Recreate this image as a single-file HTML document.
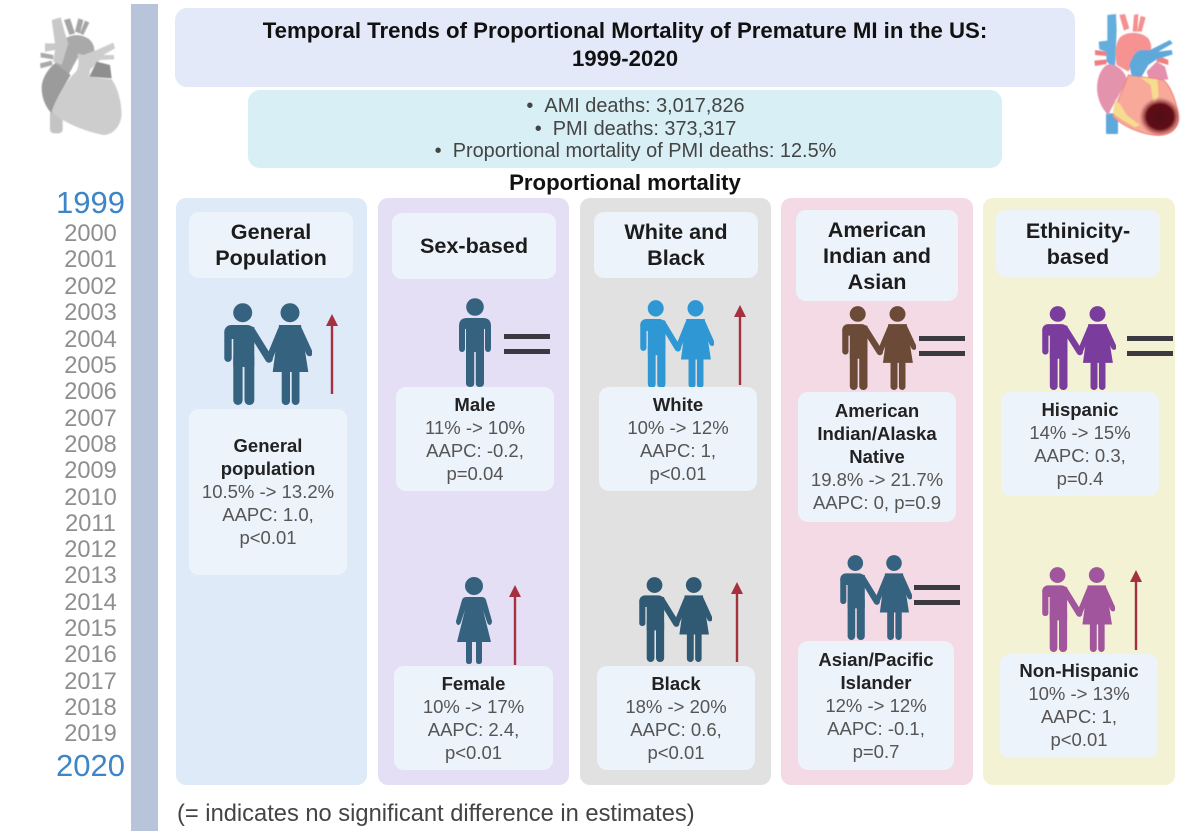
<!DOCTYPE html>
<html lang="en">
<head>
<meta charset="utf-8">
<title>Temporal Trends of Proportional Mortality of Premature MI in the US</title>
<style>
html,body{margin:0;padding:0;background:#fff;}
#page{position:relative;width:1200px;height:835px;overflow:hidden;background:#fff;font-family:"Liberation Sans",sans-serif;}
#page>*{position:absolute;}
.box{border-radius:12px;}
.panel{top:198px;height:587px;border-radius:10px;}
.head{background:#edf3fb;border-radius:10px;display:flex;align-items:center;justify-content:center;text-align:center;font-weight:bold;font-size:21.6px;line-height:26px;color:#1c1c1c;}
.card{background:#edf3fb;border-radius:10px;text-align:center;font-size:18.5px;line-height:23px;color:#555;box-sizing:border-box;}
.card b{color:#222;}
.yr{left:40px;width:101px;text-align:center;font-size:23.6px;line-height:26px;height:26px;color:#8e8e8e;}
.yr.big{font-size:31px;color:#3d85c6;left:40px;}
.eq{width:46px;border-top:5px solid #3a3a40;border-bottom:5px solid #3a3a40;box-sizing:content-box;height:10px;}
svg{display:block;}
</style>
</head>
<body>
<div id="page">
<svg width="0" height="0" style="width:0;height:0">
  <defs><filter id="soft" x="-5%" y="-5%" width="110%" height="110%"><feGaussianBlur stdDeviation="1.500"/></filter></defs>
  <symbol id="couple" viewBox="0 0 88 102" preserveAspectRatio="none">
    <g fill="currentColor">
      <circle cx="18.700" cy="9.700" r="9.500"/>
      <circle cx="66" cy="9.700" r="9.500"/>
      <rect x="0.300" y="22" width="30" height="14" rx="7"/>
      <rect x="0.300" y="26" width="7.400" height="33" rx="3.700"/>
      <rect x="9.300" y="24" width="21" height="40"/>
      <rect x="9.300" y="50" width="9.300" height="52" rx="4.600"/>
      <rect x="20.500" y="50" width="9.800" height="52" rx="4.600"/>
      <path d="M55 22H77L84.300 69H48.700Z"/>
      <rect x="57.700" y="60" width="8.300" height="42" rx="4"/>
      <rect x="67.700" y="60" width="7.800" height="42" rx="3.900"/>
    </g>
    <g fill="none" stroke="currentColor" stroke-linecap="round">
      <path d="M27 27L45 56" stroke-width="7.500"/>
      <path d="M57 27L45 56" stroke-width="6.500"/>
      <path d="M75 27L85.500 50" stroke-width="6.500"/>
    </g>
  </symbol>
  <symbol id="man" viewBox="0 0 32 89" preserveAspectRatio="none">
    <g fill="currentColor">
      <circle cx="16" cy="9" r="8.800"/>
      <path d="M8 20H24Q32 20 32 28V50Q32 54 29 54Q26 54 26 50V31H25V85Q25 89 20.500 89Q16.800 89 16.800 85V54H15.200V85Q15.200 89 11.500 89Q7 89 7 85V31H6V50Q6 54 3 54Q0 54 0 50V28Q0 20 8 20Z"/>
    </g>
  </symbol>
  <symbol id="woman" viewBox="0 0 36 87" preserveAspectRatio="none">
    <g fill="currentColor">
      <circle cx="18" cy="9" r="9"/>
      <path d="M10 20H26Q29 20 30 23L36 44Q36 47 34 48Q32 48 31 45L27 33L35 65H26V84Q26 87 23 87Q20 87 20 84V65H16V84Q16 87 13 87Q10 87 10 84V65H1L9 33L5 45Q4 48 2 48Q0 47 0 44L6 23Q7 20 10 20Z"/>
    </g>
  </symbol>
  <symbol id="arrow" viewBox="0 0 14 80" preserveAspectRatio="none">
    <path d="M7 0L13 12H8.200V80H5.800V12H1Z" fill="#a53040"/>
  </symbol>
</svg>

<!-- Gray heart -->
<svg style="left:0;top:0" width="130" height="140" viewBox="0 0 390 420">
  <g filter="url(#soft)">
    <rect x="150" y="330" width="38" height="70" rx="12" fill="#c4c4c4"/>
    <path d="M122 158L160 165L160 178L122 172Z" fill="#aaaaaa"/>
    <path d="M120 190L155 182L158 195L122 205Z" fill="#aaaaaa"/>
    <path d="M192 60L210 55L225 100L208 105Z" fill="#a5a5a5"/>
    <path d="M235 55L250 60L240 100L225 95Z" fill="#a5a5a5"/>
    <path d="M255 62L268 68L250 105L240 100Z" fill="#a5a5a5"/>
    <path d="M185 130C195 105 240 95 270 120C285 135 285 155 280 165L235 170L205 225L165 190Z" fill="#a9a9a9"/>
    <path d="M155 60L182 52L195 100L205 130L185 195L160 185L165 150L135 155L135 130L165 130Z" fill="#c8c8c8"/>
    <path d="M165 190L212 225L180 280L155 340C135 320 125 290 125 265C125 235 145 205 165 190Z" fill="#9b9b9b"/>
    <path d="M232 160L250 165L290 150L340 128L345 145L310 165L342 165L342 178L300 180L270 210L268 230L335 238C355 265 365 310 365 345C360 385 335 405 310 405C260 395 190 370 155 335C170 290 205 235 228 215C240 195 235 175 232 160Z" fill="#cdcdcd"/>
    <path d="M290 185L330 195L335 235L268 230Z" fill="#8f8f8f"/>
  </g>
</svg>

<!-- Timeline -->
<div style="left:131px;top:4px;width:27px;height:827px;background:#b7c4da"></div>
<div class="yr big" style="top:190px">1999</div>
<div class="yr" style="top:221px">2000</div>
<div class="yr" style="top:247px">2001</div>
<div class="yr" style="top:274px">2002</div>
<div class="yr" style="top:300px">2003</div>
<div class="yr" style="top:327px">2004</div>
<div class="yr" style="top:353px">2005</div>
<div class="yr" style="top:379px">2006</div>
<div class="yr" style="top:406px">2007</div>
<div class="yr" style="top:432px">2008</div>
<div class="yr" style="top:458px">2009</div>
<div class="yr" style="top:485px">2010</div>
<div class="yr" style="top:511px">2011</div>
<div class="yr" style="top:537px">2012</div>
<div class="yr" style="top:563px">2013</div>
<div class="yr" style="top:590px">2014</div>
<div class="yr" style="top:616px">2015</div>
<div class="yr" style="top:642px">2016</div>
<div class="yr" style="top:669px">2017</div>
<div class="yr" style="top:695px">2018</div>
<div class="yr" style="top:721px">2019</div>
<div class="yr big" style="top:753px">2020</div>

<!-- Title -->
<div class="box" style="left:175px;top:8px;width:900px;height:79px;background:#e4e9f9;text-align:center;font-weight:bold;font-size:22.2px;line-height:28px;color:#111;box-sizing:border-box;padding-top:9px">Temporal Trends of Proportional Mortality of Premature MI in the US:<br>1999-2020</div>

<!-- Info -->
<div class="box" style="left:248px;top:90px;width:754px;height:78px;background:#d8eff5;text-align:center;font-size:19.9px;line-height:22.500px;color:#444;box-sizing:border-box;padding:5px 0 0 21px">&#8226;&nbsp;&nbsp;AMI deaths: 3,017,826<br>&#8226;&nbsp;&nbsp;PMI deaths: 373,317<br>&#8226;&nbsp;&nbsp;Proportional mortality of PMI deaths: 12.5%</div>

<div style="left:175px;top:171px;width:900px;text-align:center;font-weight:bold;font-size:22.2px;line-height:24px;color:#111">Proportional mortality</div>

<!-- Panels -->
<div class="panel" style="left:176px;width:191px;background:#dfeaf8"></div>
<div class="panel" style="left:378px;width:191px;background:#e4dff4"></div>
<div class="panel" style="left:580px;width:191px;background:#e1e1e1"></div>
<div class="panel" style="left:781px;width:192px;background:#f3dae5"></div>
<div class="panel" style="left:983px;width:192px;background:#f4f2d4"></div>

<!-- Headers -->
<div class="head" style="left:189px;top:212px;width:164px;height:66px">General<br>Population</div>
<div class="head" style="left:392px;top:213px;width:164px;height:66px">Sex-based</div>
<div class="head" style="left:594px;top:212px;width:164px;height:66px">White and<br>Black</div>
<div class="head" style="left:796px;top:210px;width:162px;height:91px">American<br>Indian and<br>Asian</div>
<div class="head" style="left:996px;top:210px;width:164px;height:67px">Ethinicity-<br>based</div>

<!-- Icons: General -->
<svg style="left:224px;top:303px;color:#35627f" width="88" height="102"><use href="#couple"/></svg>
<svg style="left:325px;top:314px" width="14" height="80"><use href="#arrow"/></svg>

<!-- Sex -->
<svg style="left:459px;top:298px;color:#35627f" width="32" height="89"><use href="#man"/></svg>
<div class="eq" style="left:504px;top:334px"></div>
<svg style="left:456px;top:577px;color:#35627f" width="36" height="87"><use href="#woman"/></svg>
<svg style="left:508px;top:585px" width="14" height="80"><use href="#arrow"/></svg>

<!-- White / Black -->
<svg style="left:640px;top:300px;color:#2f98d4" width="74" height="88"><use href="#couple"/></svg>
<svg style="left:733px;top:305px" width="14" height="80"><use href="#arrow"/></svg>
<svg style="left:639px;top:577px;color:#305a74" width="73" height="85"><use href="#couple"/></svg>
<svg style="left:730px;top:582px" width="14" height="80"><use href="#arrow"/></svg>

<!-- AI / Asian -->
<svg style="left:842px;top:306px;color:#6b4a38" width="74" height="84"><use href="#couple"/></svg>
<div class="eq" style="left:919px;top:336px"></div>
<svg style="left:840px;top:555px;color:#35627f" width="72" height="85"><use href="#couple"/></svg>
<div class="eq" style="left:914px;top:585px"></div>

<!-- Ethnicity -->
<svg style="left:1042px;top:306px;color:#7a3d9d" width="74" height="84"><use href="#couple"/></svg>
<div class="eq" style="left:1127px;top:336px"></div>
<svg style="left:1042px;top:567px;color:#a0559c" width="73" height="85"><use href="#couple"/></svg>
<svg style="left:1129px;top:570px" width="14" height="80"><use href="#arrow"/></svg>

<!-- Cards -->
<div class="card" style="left:189px;top:409px;width:158px;height:166px;padding-top:25px"><b>General<br>population</b><br>10.5% -&gt; 13.2%<br>AAPC: 1.0,<br>p&lt;0.01</div>
<div class="card" style="left:396px;top:387px;width:158px;height:104px;padding-top:6px"><b>Male</b><br>11% -&gt; 10%<br>AAPC: -0.2,<br>p=0.04</div>
<div class="card" style="left:394px;top:666px;width:159px;height:104px;padding-top:6px"><b>Female</b><br>10% -&gt; 17%<br>AAPC: 2.4,<br>p&lt;0.01</div>
<div class="card" style="left:599px;top:387px;width:158px;height:104px;padding-top:6px"><b>White</b><br>10% -&gt; 12%<br>AAPC: 1,<br>p&lt;0.01</div>
<div class="card" style="left:597px;top:666px;width:158px;height:104px;padding-top:6px"><b>Black</b><br>18% -&gt; 20%<br>AAPC: 0.6,<br>p&lt;0.01</div>
<div class="card" style="left:798px;top:392px;width:158px;height:130px;padding-top:7px"><b>American<br>Indian/Alaska<br>Native</b><br>19.8% -&gt; 21.7%<br>AAPC: 0, p=0.9</div>
<div class="card" style="left:798px;top:641px;width:156px;height:129px;padding-top:7px"><b>Asian/Pacific<br>Islander</b><br>12% -&gt; 12%<br>AAPC: -0.1,<br>p=0.7</div>
<div class="card" style="left:1001px;top:392px;width:158px;height:104px;padding-top:6px"><b>Hispanic</b><br>14% -&gt; 15%<br>AAPC: 0.3,<br>p=0.4</div>
<div class="card" style="left:1000px;top:654px;width:158px;height:104px;padding-top:5px"><b>Non-Hispanic</b><br>10% -&gt; 13%<br>AAPC: 1,<br>p&lt;0.01</div>

<!-- Colored heart -->
<svg style="left:1000px;top:0" width="200" height="150" viewBox="0 0 600 450">
  <defs>
    <radialGradient id="infarct"><stop offset="0" stop-color="#4f0b16"/><stop offset=".65" stop-color="#611019"/><stop offset="1" stop-color="#a03a3e" stop-opacity="0"/></radialGradient>
  </defs>
  <g filter="url(#soft)">
    <rect x="318" y="340" width="36" height="62" rx="3" fill="#5da9da"/>
    <path d="M470 165L505 180L505 195L470 185Z" fill="#ee8080"/>
    <path d="M285 150L320 155L320 168L285 165Z" fill="#ef7d80"/>
    <path d="M283 182L320 178L320 192L285 198Z" fill="#ef7d80"/>
    <path d="M322 45L348 42L350 90L345 210L320 185L318 155L298 148L296 125L322 122Z" fill="#63aedd"/>
    <path d="M358 45L375 42L388 85L372 92Z" fill="#f4908e"/>
    <path d="M402 45L415 42L412 95L398 95Z" fill="#f4908e"/>
    <path d="M422 48L437 52L425 95L412 95Z" fill="#f4908e"/>
    <path d="M355 120C365 95 420 90 445 115C458 135 455 155 445 165L400 190L385 215L350 195C345 170 345 140 355 120Z" fill="#f79292"/>
    <path d="M440 215L470 185L495 200L505 238L480 240L445 232Z" fill="#e48fae"/>
    <path d="M320 195C345 185 375 215 380 235C370 270 345 300 325 345C300 320 288 285 292 250C295 225 305 205 320 195Z" fill="#e493ad"/>
    <path d="M385 225L490 240C515 260 535 320 535 360C530 395 500 410 460 405C420 400 370 380 340 350C345 310 370 270 385 225Z" fill="#f8a99a" stroke="#ee8070" stroke-width="3"/>
    <path d="M345 300L360 312L380 345L420 375L405 382L368 360L338 340Z" fill="#f6dc8f"/>
    <path d="M420 232L472 238L476 285L465 315L458 298L452 255Z" fill="#f6dc8f"/>
    <path d="M388 195C395 175 405 155 420 150L450 150L510 120L518 130L475 155L515 150L518 163L470 178L445 195L425 230L395 228Z" fill="#5fa9da"/>
    <ellipse cx="480" cy="350" rx="62" ry="58" fill="url(#infarct)"/>
  </g>
</svg>

<div style="left:177px;top:800px;font-size:23.7px;line-height:28px;color:#444;white-space:nowrap">(= indicates no significant difference in estimates)</div>
</div>
</body>
</html>
